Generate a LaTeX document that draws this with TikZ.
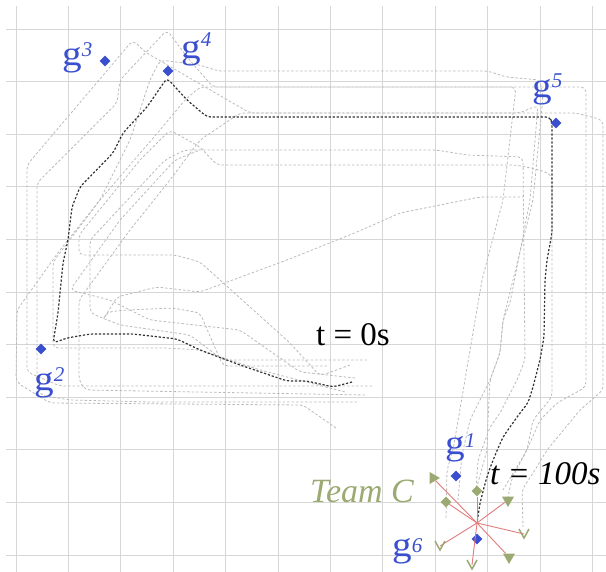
\documentclass[tikz,border=0pt]{standalone}
\usepackage{fontspec}
\setmainfont{Liberation Serif}
\usetikzlibrary{shapes.geometric}
\definecolor{gridc}{HTML}{D6D6D6}
\definecolor{trajc}{HTML}{BBBBBB}
\definecolor{darkc}{HTML}{333333}
\definecolor{goalc}{HTML}{3A4FCF}
\definecolor{teamc}{HTML}{9BAA72}
\definecolor{redc}{HTML}{E07C7C}
\newcommand{\glab}[2]{\scalebox{1.12}[1]{g}\raisebox{#2pt}{\fontsize{21}{21}\selectfont\itshape #1}}
\begin{document}
\begin{tikzpicture}[x=1pt,y=-1pt,
  gridline/.style={gridc, line width=0.9pt},
  traj/.style={trajc, line width=0.8pt, dash pattern=on 2.5pt off 2pt, rounded corners=5pt},
  darktraj/.style={darkc, line width=1.2pt, dash pattern=on 2.2pt off 1.8pt, rounded corners=4pt},
  goal/.style={diamond, fill=goalc, inner sep=0pt, minimum width=11pt, minimum height=11pt},
  glabel/.style={goalc, inner sep=0pt, anchor=base west, font=\fontsize{35}{35}\selectfont},
  agenttri/.style={regular polygon, regular polygon sides=3, shape border rotate=180, fill=teamc, inner sep=0pt, minimum size=14pt},
  agentpt/.style={inner sep=0pt, minimum size=8pt},
  chev/.style={teamc, line width=1.5pt},
  agentdia/.style={diamond, fill=teamc, inner sep=0pt, minimum width=11pt, minimum height=11pt},
  redline/.style={redc, line width=0.9pt},
  bigtext/.style={inner sep=0pt, anchor=base west, font=\fontsize{33}{33}\selectfont}
]
\useasboundingbox (0,0) rectangle (606,572);
\fill[white] (0,0) rectangle (606,572);
% grid
\foreach \i in {0,...,11} \draw[gridline] ({16+52.4*\i},6) -- ({16+52.4*\i},572);
\foreach \j in {0,...,10} \draw[gridline] (6,{29+52.6*\j}) -- (606,{29+52.6*\j});

% gray trajectories
\draw[traj] (372,386) -- (60,386) -- (27,372) -- (27,165) -- (133,40) -- (145,52) -- (250,113) -- (576,113) -- (603,120) -- (603,390) -- (580,410) -- (547,450) -- (535,470) -- (522,490) -- (523,527);
\draw[traj] (357,402) -- (150,402) -- (70,400) -- (40,395) -- (37,380) -- (37,183) -- (117,103) -- (120,80) -- (167,30) -- (187,57) -- (213,87) -- (586,87) -- (586,387) -- (557,403) -- (540,420) -- (527,450) -- (512,478) -- (508,497);
\draw[traj] (367,360) -- (223,360) -- (190,335) -- (120,325) -- (90,313) -- (90,240) -- (165,160) -- (185,150) -- (436,150) -- (467,155) -- (523,157) -- (525,360) -- (517,380) -- (500,413) -- (490,427) -- (478,460) -- (476,490);
\draw[traj] (350,365) -- (320,376) -- (290,343) -- (200,262) -- (175,255) -- (79,255) -- (79,235) -- (140,160) -- (170,130) -- (200,147) -- (217,165) -- (516,165) -- (540,170) -- (552,175) -- (552,397) -- (533,420) -- (527,450) -- (515,470) -- (503,490);
\draw[traj] (327,366) -- (223,366) -- (200,313) -- (173,308) -- (127,310) -- (107,312) -- (103,320) -- (117,297) -- (157,287) -- (200,292) -- (287,260) -- (357,232) -- (400,213) -- (480,197) -- (523,197);
\draw[traj] (345,392) -- (260,370) -- (200,350) -- (167,348) -- (53,348) -- (53,262) -- (100,200) -- (130,140) -- (150,80) -- (160,60) -- (200,65) -- (218,71) -- (488,71) -- (506,77) -- (540,80) -- (543,97) -- (533,200) -- (513,280) -- (503,320) -- (500,353) -- (490,380) -- (488,420) -- (487,450) -- (476,490);
\draw[traj] (336,428) -- (303,405) -- (50,403) -- (16,382) -- (17,310) -- (60,250) -- (100,200) -- (160,130) -- (185,100) -- (200,87) -- (480,87) -- (516,87) -- (503,200) -- (482,280) -- (453,450) -- (447,470) -- (446,520);
\draw[traj] (365,395) -- (85,390) -- (79,380) -- (79,300) -- (130,230) -- (170,180) -- (200,140) -- (240,113) -- (520,113) -- (538,105) -- (530,200) -- (510,303) -- (503,320) -- (500,353) -- (490,380) -- (470,420) -- (462,455) -- (458,500);
\draw[traj] (355,378) -- (300,372) -- (240,330) -- (150,320) -- (110,300) -- (70,290) -- (120,220) -- (175,160) -- (200,150);

% dark trajectory
\draw[darktraj] (352,382) -- (333,387) -- (307,381) -- (287,381) -- (240,365) -- (200,350) -- (177,339) -- (133,334) -- (90,334) -- (67,338) -- (53,343) -- (58,313) -- (63,263) -- (68,240) -- (72,207) -- (80,187) -- (113,153) -- (123,133) -- (147,107) -- (167,78) -- (187,100) -- (207,117) -- (550,117) -- (552,123) -- (552,233) -- (547,260) -- (545,280) -- (544,337) -- (540,360) -- (533,387) -- (528,403) -- (520,413) -- (510,427) -- (503,437) -- (496,453) -- (490,468) -- (486,480) -- (480,503) -- (477,523);

% goals
\node[goal] (g3) at (105,61) {};
\node[goal] (g4) at (168,71) {};
\node[goal] (g5) at (556,123) {};
\node[goal] (g2) at (41,349) {};
\node[goal] (g1) at (456,476) {};
\node[goal] (g6) at (477,539) {};
\node[glabel] (lg3) at (62,66) {\glab{3}{9}};
\node[glabel] (lg4) at (181,59) {\glab{4}{12}};
\node[glabel] (lg5) at (532,98) {\glab{5}{10}};
\node[glabel] (lg2) at (34,391) {\glab{2}{9}};
\node[glabel] (lg1) at (445,454) {\glab{1}{7}};
\node[glabel] (lg6) at (392,556) {\glab{6}{4}};

% team C agents
\coordinate (ctr) at (477,523);
\node[agenttri, rotate=-30] (a1) at (433,478) {};
\node[agentdia] (a2) at (446,502) {};
\node[agentdia] (a3) at (477,491) {};
\node[agenttri] (a4) at (508,500) {};
\node[agentpt] (a5) at (524,534) {};
\node[agenttri] (a6) at (509,557) {};
\node[agentpt] (a7) at (472,565) {};
\node[agentpt] (a8) at (440,546) {};
\foreach \a in {a1,a2,a3,a4,a6} \draw[redline] (ctr) -- (\a);
\foreach \a in {a5,a7,a8} \draw[redline] (ctr) -- (\a.center);
\foreach \a in {a5,a7,a8} \draw[chev] (\a.center) ++(-5,-5) -- ++(5,9) -- ++(5,-9);

% texts
\node[bigtext] (t0) at (316,346) {t = 0s};
\node[bigtext, font=\fontsize{33}{33}\selectfont\itshape] (t100) at (490,485) {t = 100s};
\node[bigtext, teamc, font=\fontsize{34}{34}\selectfont\itshape] (team) at (310,502) {Team C};
\end{tikzpicture}
\end{document}
